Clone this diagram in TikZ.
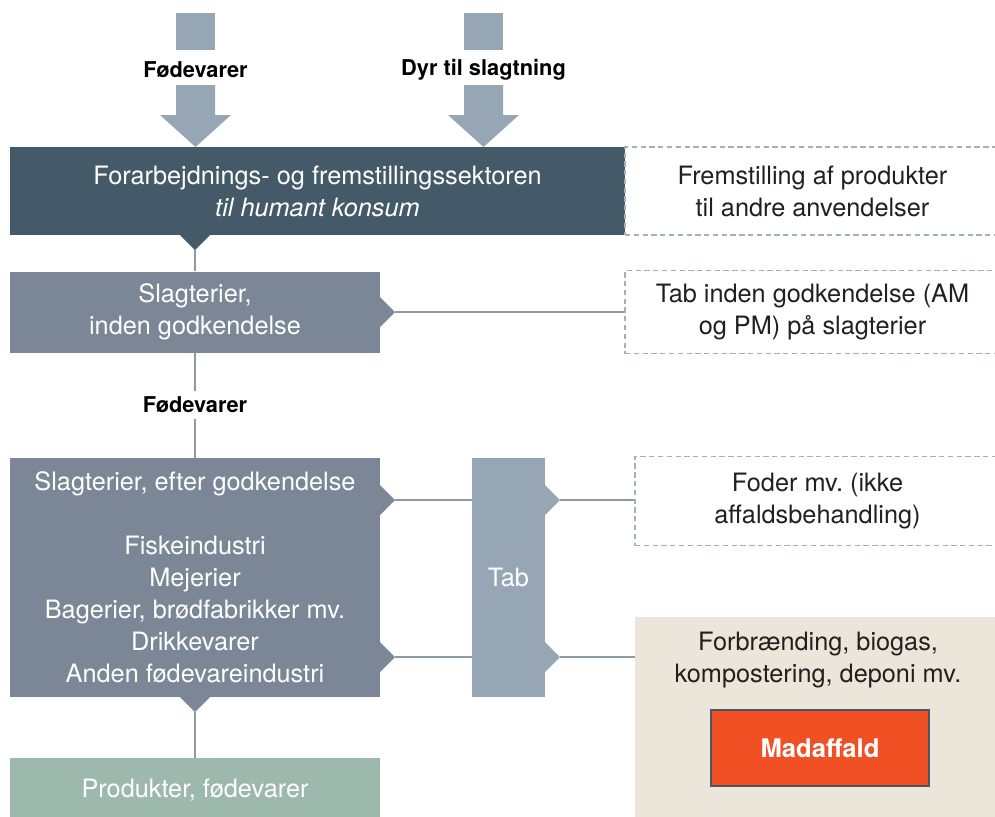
\documentclass[tikz,border=0pt]{standalone}
\usepackage{fontspec}
\setmainfont{TeX Gyre Heros}
\usepackage{tikz}
\frenchspacing

\definecolor{sektor}{HTML}{455A69}
\definecolor{slagt}{HTML}{7B8796}
\definecolor{tabc}{HTML}{97A6B4}
\definecolor{behandling}{HTML}{EBE5DA}
\definecolor{produkt}{HTML}{9DB8AD}
\definecolor{affald}{HTML}{F05023}
\definecolor{affaldkant}{HTML}{4A5866}
\definecolor{streg}{HTML}{8C99A6}
\definecolor{stiplet}{HTML}{A3AFBC}
\definecolor{tekst}{HTML}{231F20}

\begin{document}
\begin{tikzpicture}[x=0.02cm,y=-0.02cm,
  every node/.style={inner sep=0pt,align=center},
  boks/.style={rectangle,text=white,font=\fontsize{14.4}{18.2}\selectfont},
  stipletboks/.style={rectangle,draw=stiplet,dash pattern=on 3pt off 2pt,line width=1pt,text=tekst,font=\fontsize{14.4}{18.2}\selectfont},
  fed/.style={text=black,font=\bfseries\fontsize{12.4}{15}\selectfont},
  forbindelse/.style={draw=streg,line width=0.9pt}]
\useasboundingbox (0,0) rectangle (995,816);
\clip (0,0) rectangle (995,816);

% input arrows
\fill[tabc] (176,13) rectangle (215,50);
\fill[tabc] (176,85) -- (215,85) -- (215,115) -- (231,115) -- (195.5,147) -- (160,115) -- (176,115) -- cycle;
\fill[tabc] (464,13) rectangle (503,50);
\fill[tabc] (464,85) -- (503,85) -- (503,115) -- (519,115) -- (483.5,147) -- (448,115) -- (464,115) -- cycle;
\node[fed] (ind1) at (195.5,70) {Fødevarer};
\node[fed] (ind2) at (483.5,70) {Dyr til slagtning};

\node[boks,fill=sektor,minimum width=12.3cm,minimum height=1.76cm] (sektor) at (317.5,191)
  {Forarbejdnings- og fremstillingssektoren\\\textit{til humant konsum}};
\node[stipletboks,minimum width=7.5cm,minimum height=1.76cm] (andre) at (812.5,191)
  {Fremstilling af produkter\\til andre anvendelser};

\node[boks,fill=slagt,minimum width=7.4cm,minimum height=1.62cm] (slag1) at (195,312)
  {Slagterier,\\inden godkendelse};
\node[stipletboks,minimum width=7.5cm,minimum height=1.66cm] (tabinden) at (812.5,312)
  {Tab inden godkendelse (AM\\og PM) på slagterier};

\node[fed,fill=white,inner sep=3pt] (midt) at (195,405) {Fødevarer};

\node[boks,fill=slagt,minimum width=7.4cm,minimum height=4.78cm] (slag2) at (195,577.5)
  {Slagterier, efter godkendelse\\[18.2pt]Fiskeindustri\\Mejerier\\Bagerier, brødfabrikker mv.\\Drikkevarer\\Anden fødevareindustri};
\node[boks,fill=tabc,minimum width=1.46cm,minimum height=4.78cm] (tab) at (508.5,577.5) {Tab};

\node[stipletboks,minimum width=7.3cm,minimum height=1.78cm] (foder) at (817.5,501)
  {Foder mv. (ikke\\affaldsbehandling)};
\node[rectangle,fill=behandling,minimum width=7.3cm,minimum height=4.26cm] (behandling) at (817.5,723.5) {};
\node[text=tekst,font=\fontsize{14.4}{18.2}\selectfont] (metoder) at (818,660)
  {Forbrænding, biogas,\\kompostering, deponi mv.};
\node[rectangle,fill=affald,draw=affaldkant,line width=1.2pt,minimum width=4.36cm,minimum height=1.52cm,
  text=white,font=\bfseries\fontsize{14.6}{18}\selectfont] (madaffald) at (820,748) {Madaffald};

\node[boks,fill=produkt,minimum width=7.4cm,minimum height=1.28cm] (produkter) at (195,790) {Produkter, fødevarer};

% pointers
\foreach \navn/\px/\py/\farve in {ps/195/235/sektor, pb/195/697/slagt}
  {\fill[\farve] (\px-15,\py) -- (\px,\py+15) -- (\px+15,\py) -- cycle;
   \coordinate (\navn) at (\px,\py+15);}
\foreach \navn/\px/\py/\farve in {pr1/380/312/slagt, pr2/380/500/slagt, pr3/380/657/slagt, pt1/545/500/tabc, pt2/545/657/tabc}
  {\fill[\farve] (\px,\py-15) -- (\px+15,\py) -- (\px,\py+15) -- cycle;
   \coordinate (\navn) at (\px+15,\py);}

\foreach \fra/\til in {ps/slag1,slag1/midt,midt/slag2,pb/produkter,pr1/tabinden.west}
  \draw[forbindelse] (\fra) -- (\til);
\draw[forbindelse] (pr2) -- (pr2 -| tab.west);
\draw[forbindelse] (pr3) -- (pr3 -| tab.west);
\draw[forbindelse] (pt1) -- (pt1 -| foder.west);
\draw[forbindelse] (pt2) -- (pt2 -| behandling.west);

\end{tikzpicture}
\end{document}
